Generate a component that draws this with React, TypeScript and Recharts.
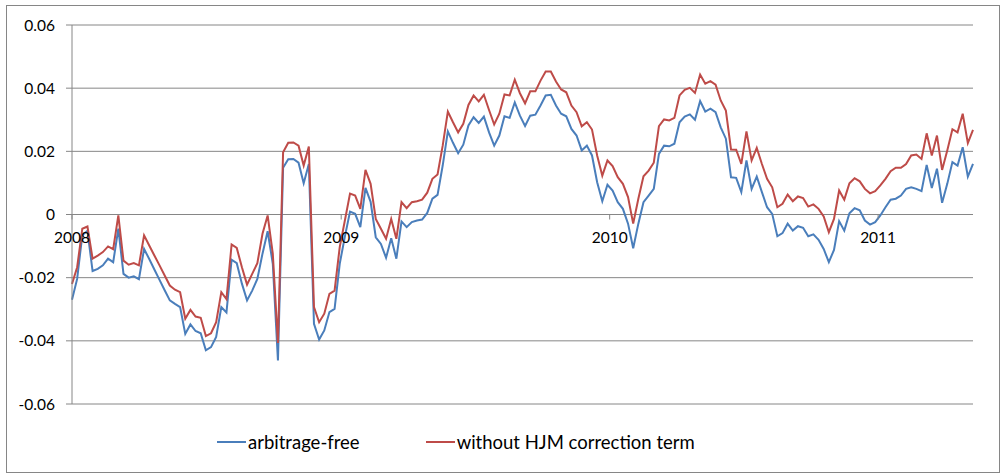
import { LineChart, Line, XAxis, YAxis, CartesianGrid, ReferenceDot } from "recharts";

// weekly observations, Jan 2008 .. May 2011
const arbitrageFree = [
  -0.027, -0.0204, -0.0065, -0.0052, -0.0179, -0.0172, -0.0161, -0.014, -0.0151, -0.0045,
  -0.0188, -0.02, -0.0196, -0.0205, -0.0109, -0.0141, -0.0174, -0.0207, -0.024, -0.0272,
  -0.0283, -0.0293, -0.0378, -0.0348, -0.0369, -0.0376, -0.043, -0.042, -0.0388, -0.0293,
  -0.031, -0.0143, -0.0154, -0.0219, -0.0272, -0.0241, -0.0204, -0.0124, -0.0053, -0.0156,
  -0.0462, 0.0148, 0.0175, 0.0176, 0.0164, 0.0099, 0.016, -0.0346, -0.0396, -0.0367,
  -0.0309, -0.0299, -0.0156, -0.007, 0.0009, 0.0002, -0.004, 0.0084, 0.004, -0.0072,
  -0.0093, -0.0137, -0.0075, -0.014, -0.0022, -0.004, -0.0024, -0.0019, -0.0016, 0.0005,
  0.005, 0.0062, 0.0155, 0.0263, 0.0227, 0.0194, 0.0221, 0.0282, 0.0308, 0.029,
  0.031, 0.026, 0.0218, 0.025, 0.0311, 0.0306, 0.0355, 0.0313, 0.028, 0.0313,
  0.0316, 0.0345, 0.0377, 0.0379, 0.0345, 0.0319, 0.0311, 0.0271, 0.025, 0.0203,
  0.0218, 0.0187, 0.0102, 0.0042, 0.0094, 0.0076, 0.0039, 0.0018, -0.0029, -0.0107,
  -0.0029, 0.0039, 0.006, 0.0081, 0.0192, 0.0218, 0.0216, 0.0224, 0.0292, 0.031,
  0.0317, 0.03, 0.0359, 0.0326, 0.0335, 0.0324, 0.0276, 0.024, 0.0118, 0.0116,
  0.0071, 0.0171, 0.0081, 0.012, 0.0071, 0.0023, 0.0002, -0.0069, -0.0059, -0.0029,
  -0.0051, -0.0037, -0.0042, -0.0069, -0.0063, -0.008, -0.0109, -0.0151, -0.0112, -0.0021,
  -0.0051, 0.0004, 0.002, 0.0013, -0.0019, -0.0032, -0.0024, -0.0003, 0.0023, 0.0047,
  0.005, 0.006, 0.0081, 0.0086, 0.0081, 0.0074, 0.0157, 0.0084, 0.0145, 0.0037,
  0.0097, 0.0166, 0.0155, 0.0213, 0.012, 0.016,
];

const withoutHjm = [
  -0.022, -0.0167, -0.0045, -0.0038, -0.014, -0.013, -0.0119, -0.0101, -0.011, -0.0003,
  -0.0146, -0.0159, -0.0154, -0.0161, -0.0066, -0.0098, -0.013, -0.0161, -0.0193, -0.0225,
  -0.0238, -0.0246, -0.033, -0.0302, -0.0323, -0.0327, -0.0385, -0.0376, -0.0341, -0.0246,
  -0.0268, -0.0095, -0.0106, -0.0167, -0.0222, -0.0188, -0.0154, -0.0061, -0.0003, -0.0124,
  -0.0407, 0.0197, 0.0227, 0.0228, 0.0218, 0.0155, 0.0215, -0.0293, -0.0341, -0.0314,
  -0.0251, -0.0241, -0.0103, -0.0019, 0.0066, 0.006, 0.0018, 0.0141, 0.0097, -0.0014,
  -0.0045, -0.0077, -0.0014, -0.0077, 0.0039, 0.002, 0.0039, 0.0042, 0.0047, 0.0069,
  0.0113, 0.0127, 0.0218, 0.0326, 0.0292, 0.026, 0.0287, 0.0347, 0.0377, 0.0358,
  0.0379, 0.0331, 0.0285, 0.0319, 0.038, 0.0377, 0.0427, 0.0384, 0.0352, 0.039,
  0.039, 0.0424, 0.0453, 0.0453, 0.0421, 0.0396, 0.0387, 0.0345, 0.0324, 0.0279,
  0.0292, 0.0269, 0.0187, 0.0123, 0.0171, 0.0153, 0.0118, 0.0097, 0.0055, -0.0029,
  0.005, 0.0121, 0.0139, 0.0164, 0.028, 0.0301, 0.0298, 0.0306, 0.0377, 0.0395,
  0.0401, 0.0385, 0.0443, 0.0414, 0.0422, 0.0411, 0.0361, 0.0329, 0.0206, 0.0205,
  0.016, 0.0263, 0.0171, 0.0211, 0.016, 0.0113, 0.0086, 0.0023, 0.0034, 0.0063,
  0.0042, 0.0057, 0.0052, 0.0025, 0.0032, 0.0018, -0.0006, -0.0056, -0.0014, 0.0076,
  0.0047, 0.0099, 0.0115, 0.0105, 0.0081, 0.0067, 0.0074, 0.0092, 0.0113, 0.0137,
  0.0148, 0.0148, 0.016, 0.0187, 0.019, 0.0176, 0.0257, 0.0187, 0.025, 0.0141,
  0.0203, 0.027, 0.026, 0.0319, 0.0226, 0.0268,
];

const years = [2008, 2009, 2010, 2011];
const yTicks = [-0.06, -0.04, -0.02, 0, 0.02, 0.04, 0.06];

const START = Date.UTC(2008, 0, 1);
const WEEK = 7 * 24 * 3600 * 1000;

const BLUE = "#4a7ebb";
const RED = "#be4b48";
const GRID = "#868686";
const FONT = "Lato, 'Open Sans', sans-serif";

const data = arbitrageFree.map((v, i) => ({
  t: START + i * WEEK,
  arb: v,
  hjm: withoutHjm[i],
}));

const fmt = (v: number) => String(Number(v.toFixed(2)));

function YearMark(props: any) {
  const { cx, cy, label } = props;
  return (
    <g>
      <line x1={cx} y1={cy} x2={cx} y2={cy + 5} stroke={GRID} strokeWidth={1} />
      <text x={cx} y={cy + 28} textAnchor="middle" fontSize={15.5} fontFamily={FONT} fill="#000">
        {label}
      </text>
    </g>
  );
}

function LegendItem({ color, text }: { color: string; text: string }) {
  return (
    <div style={{ display: "flex", alignItems: "center" }}>
      <div style={{ width: 29, height: 2, background: color, marginRight: 2 }} />
      <span>{text}</span>
    </div>
  );
}

export default function App() {
  return (
    <div
      style={{
        position: "absolute",
        left: 0,
        top: 0,
        width: 1005,
        height: 474,
        background: "#fff",
        fontFamily: FONT,
      }}
    >
      <div
        style={{
          position: "absolute",
          left: 6,
          top: 5,
          width: 992,
          height: 466,
          border: `1px solid ${GRID}`,
        }}
      />
      <div style={{ position: "absolute", left: 0, top: 0 }}>
        <LineChart
          width={1005}
          height={474}
          data={data}
          margin={{ top: 25, right: 32, bottom: 70, left: 12 }}
        >
          <CartesianGrid vertical={false} stroke={GRID} strokeWidth={1} />
          <XAxis dataKey="t" type="number" domain={["dataMin", "dataMax"]} hide />
          <YAxis
            width={60}
            domain={[-0.06, 0.06]}
            ticks={yTicks}
            tickFormatter={fmt}
            tickSize={6}
            tickMargin={11}
            axisLine={{ stroke: GRID }}
            tickLine={{ stroke: GRID }}
            tick={{ fill: "#000", fontSize: 15.5, fontFamily: FONT }}
            interval={0}
          />
          <Line
            dataKey="arb"
            name="arbitrage-free"
            stroke={BLUE}
            strokeWidth={2}
            dot={false}
            type="linear"
            isAnimationActive={false}
          />
          <Line
            dataKey="hjm"
            name="without HJM correction term"
            stroke={RED}
            strokeWidth={2}
            dot={false}
            type="linear"
            isAnimationActive={false}
          />
          {years.map((y) => (
            <ReferenceDot
              key={y}
              x={Date.UTC(y, 0, 1)}
              y={0}
              r={0}
              ifOverflow="visible"
              shape={(p: any) => <YearMark {...p} label={String(y)} />}
            />
          ))}
        </LineChart>
      </div>
      <div
        style={{
          position: "absolute",
          left: 217,
          top: 431,
          display: "flex",
          gap: 66,
          fontSize: 18.5,
          color: "#000",
        }}
      >
        <LegendItem color={BLUE} text="arbitrage-free" />
        <LegendItem color={RED} text="without HJM correction term" />
      </div>
    </div>
  );
}
